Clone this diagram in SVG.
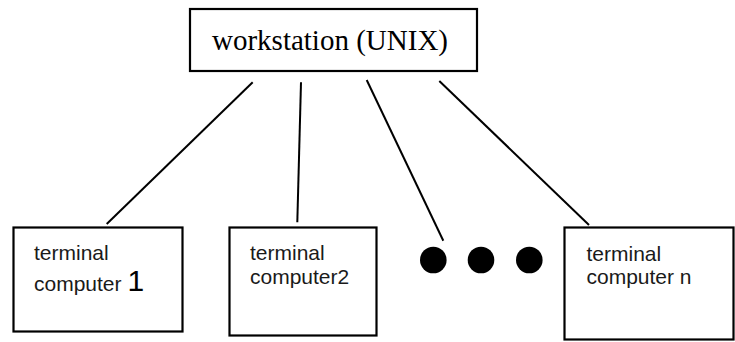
<svg xmlns="http://www.w3.org/2000/svg" width="735" height="342" viewBox="0 0 735 342">
  <style>
    .box { fill: #ffffff; stroke: #000000; stroke-width: 2.2; }
    .link { stroke: #000000; stroke-width: 2; fill: none; }
    .serif { font-family: "Liberation Serif", "Times New Roman", serif; fill: #000000; }
    .sans { font-family: "Liberation Sans", Arial, sans-serif; fill: #1a1a1a; font-size: 21px; }
    .dot { fill: #000000; }
  </style>
  <rect width="735" height="342" fill="#ffffff"/>

  <g id="connectors">
    <line class="link" x1="252.7" y1="82.3" x2="106.7" y2="224"/>
    <line class="link" x1="301" y1="82.3" x2="297.3" y2="222.3"/>
    <line class="link" x1="366.7" y1="80" x2="443.3" y2="240.7"/>
    <line class="link" x1="439.3" y1="81" x2="589" y2="225"/>
  </g>

  <g id="workstation">
    <rect class="box" x="190" y="9" width="287" height="62"/>
    <text class="serif" x="212" y="50" font-size="29">workstation (UNIX)</text>
  </g>

  <g id="terminal1">
    <rect class="box" x="13.5" y="227.5" width="169" height="104"/>
    <text class="sans" x="34" y="260">terminal</text>
    <text class="sans" x="34" y="290.5">computer <tspan font-size="30" fill="#000000">1</tspan></text>
  </g>

  <g id="terminal2">
    <rect class="box" x="229.5" y="227.5" width="147" height="108"/>
    <text class="sans" x="250" y="260">terminal</text>
    <text class="sans" x="250" y="283.5">computer2</text>
  </g>

  <g id="ellipsis">
    <circle class="dot" cx="433.3" cy="260" r="13.3"/>
    <circle class="dot" cx="481" cy="260" r="13.3"/>
    <circle class="dot" cx="529.3" cy="260" r="13.3"/>
  </g>

  <g id="terminaln">
    <rect class="box" x="564.5" y="227.5" width="169" height="112"/>
    <text class="sans" x="586.5" y="260.5">terminal</text>
    <text class="sans" x="586.5" y="284">computer n</text>
  </g>
</svg>
